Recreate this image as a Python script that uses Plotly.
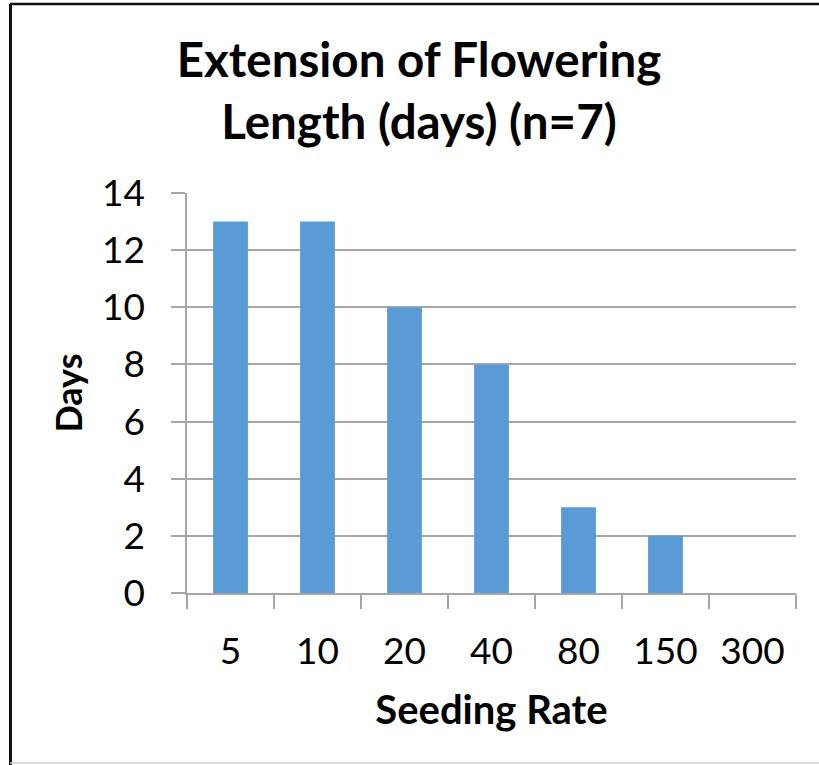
import plotly.graph_objects as go

# Seeding-rate categories and extension of flowering length (days)
seeding_rates = ["5", "10", "20", "40", "80", "150", "300"]
extension_days = [13, 13, 10, 8, 3, 2, 0]
y_ticks = [0, 2, 4, 6, 8, 10, 12, 14]

FONT = "Lato"
GRID = "#A6A6A6"
BAR = "#5B9BD5"

W, H = 819, 765
ML, MR, MT, MB = 187, 23, 193, 172
PW, PH = W - ML - MR, H - MT - MB


def px_x(x):
    return (x - ML) / PW


def px_y(y):
    return (H - MB - y) / PH


fig = go.Figure(
    go.Bar(
        x=seeding_rates,
        y=extension_days,
        marker=dict(color=BAR, line=dict(width=0)),
        hoverinfo="x+y",
    )
)

fig.update_layout(
    width=W,
    height=H,
    margin=dict(l=ML, r=MR, t=MT, b=MB, pad=0),
    paper_bgcolor="white",
    plot_bgcolor="white",
    bargap=0.6,
    showlegend=False,
    font=dict(family=FONT, color="black"),
    title=dict(
        text="<b>Extension of Flowering<br>Length (days) (n=7)</b>",
        x=419 / W,
        xanchor="center",
        y=1 - 77 / H,
        yanchor="middle",
        font=dict(family=FONT, size=47.5, color="black"),
    ),
)

fig.update_xaxes(
    type="category",
    showgrid=False,
    showline=True,
    linecolor=GRID,
    linewidth=1.5,
    ticks="outside",
    tickson="boundaries",
    ticklen=14,
    tickcolor=GRID,
    tickwidth=1.5,
    tickfont=dict(family=FONT, size=37, color="black"),
    ticklabelstandoff=25,
    title=dict(text="<b>Seeding Rate</b>", font=dict(family=FONT, size=40, color="black"), standoff=25),
    fixedrange=True,
)

fig.update_yaxes(
    range=[0, 14],
    tickvals=y_ticks,
    showgrid=True,
    gridcolor=GRID,
    gridwidth=1.5,
    zeroline=False,
    showline=True,
    linecolor=GRID,
    linewidth=1.5,
    ticks="outside",
    ticklen=14,
    tickcolor=GRID,
    tickwidth=1.5,
    tickfont=dict(family=FONT, size=37, color="black"),
    ticklabelstandoff=19,
    title=dict(text="<b>Days</b>", font=dict(family=FONT, size=36, color="black"), standoff=8),
    fixedrange=True,
)

# Chart frame: dark top and left edges, light bottom edge
fig.add_shape(type="line", xref="paper", yref="paper",
              x0=px_x(10), x1=px_x(W), y0=px_y(4), y1=px_y(4),
              line=dict(color="#111111", width=2.5))
fig.add_shape(type="line", xref="paper", yref="paper",
              x0=px_x(10.5), x1=px_x(10.5), y0=px_y(4), y1=px_y(H),
              line=dict(color="#111111", width=3))
fig.add_shape(type="line", xref="paper", yref="paper",
              x0=px_x(10), x1=px_x(W), y0=px_y(763), y1=px_y(763),
              line=dict(color="#D0D0D0", width=1.5))

fig.write_html("out.html")
